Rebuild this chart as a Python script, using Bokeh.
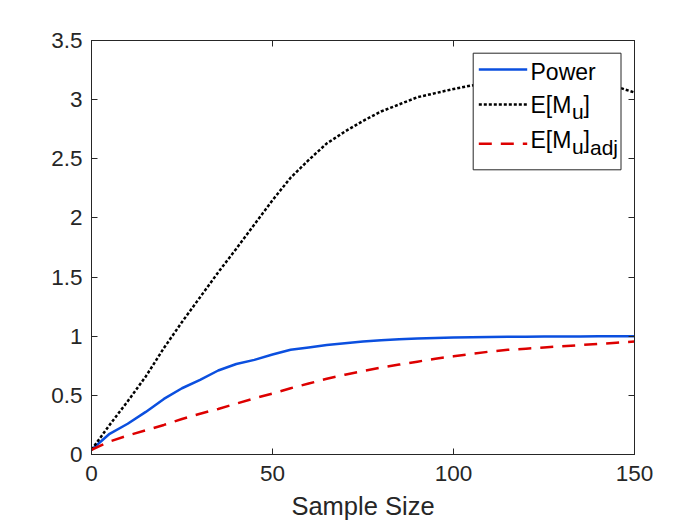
from bokeh.plotting import figure
from bokeh.models import LinearAxis, FixedTicker, CustomJSTickFormatter, Range1d
from bokeh.embed import file_html
from bokeh.resources import INLINE
from bokeh.core.properties import value

# ---------------- data ----------------
sample_size = [0, 5, 10, 15, 20, 25, 30, 35, 40, 45, 50, 55, 60, 65, 70, 75,
               80, 85, 90, 95, 100, 105, 110, 115, 120, 125, 130, 135, 140, 145, 150]
power = [0.04, 0.175, 0.26, 0.36, 0.47, 0.56, 0.63, 0.71, 0.765, 0.80, 0.845, 0.885,
         0.905, 0.925, 0.94, 0.955, 0.965, 0.975, 0.98, 0.985, 0.99, 0.992, 0.994,
         0.995, 0.996, 0.997, 0.998, 0.998, 0.999, 0.999, 1.0]
e_mu = [0.04, 0.25, 0.45, 0.66, 0.90, 1.12, 1.33, 1.54, 1.74, 1.945, 2.15, 2.34,
        2.49, 2.63, 2.73, 2.82, 2.90, 2.96, 3.02, 3.055, 3.09, 3.12, 3.14, 3.155,
        3.165, 3.17, 3.165, 3.15, 3.135, 3.11, 3.06]
e_mu_adj = [0.04, 0.11, 0.16, 0.205, 0.25, 0.30, 0.345, 0.385, 0.43, 0.475, 0.515,
            0.56, 0.60, 0.64, 0.675, 0.705, 0.735, 0.76, 0.785, 0.81, 0.83, 0.85,
            0.87, 0.885, 0.895, 0.905, 0.915, 0.925, 0.935, 0.945, 0.955]
x_ticks = [0, 50, 100, 150]
y_ticks = [0, 0.5, 1, 1.5, 2, 2.5, 3, 3.5]
x_label = "Sample Size"

# ---------------- styling ----------------
FONT = "Liberation Sans"
AX = "#262626"
BLUE = "#0b4fdf"
RED = "#dd0000"
BLACK = "#000000"
DOT = "3 2"
DASH = "13 9"

X0, X1 = 0, 150
Y0, Y1 = 0, 3.5
FW, FH = 543, 414

p = figure(frame_width=FW, frame_height=FH,
           x_range=Range1d(X0, X1), y_range=Range1d(Y0, Y1),
           output_backend="svg", toolbar_location=None,
           min_border_left=91, min_border_right=66,
           min_border_top=40, min_border_bottom=71,
           background_fill_color="white", border_fill_color="white")
p.grid.visible = False
p.outline_line_color = AX
p.outline_line_width = 1

fmt = CustomJSTickFormatter(code="return tick.toString();")


def style_axis(ax, ticks, show_labels=True):
    ax.ticker = FixedTicker(ticks=ticks)
    ax.formatter = fmt
    ax.axis_line_color = AX
    ax.axis_line_width = 1
    ax.major_tick_line_color = AX
    ax.major_tick_line_width = 1
    ax.major_tick_in = 6
    ax.major_tick_out = 0
    ax.minor_tick_line_color = None
    ax.major_label_text_font = FONT
    if show_labels:
        ax.major_label_text_color = AX
        ax.major_label_text_font_size = "22.5px"
    else:
        ax.major_label_text_color = None
        ax.major_label_text_font_size = "1px"
        ax.major_label_standoff = 0


style_axis(p.xaxis[0], x_ticks)
style_axis(p.yaxis[0], y_ticks)
p.xaxis[0].major_label_standoff = 11
p.yaxis[0].major_label_standoff = 9
p.xaxis[0].axis_label = x_label
p.xaxis[0].axis_label_text_font = FONT
p.xaxis[0].axis_label_text_font_size = "25.5px"
p.xaxis[0].axis_label_text_font_style = "normal"
p.xaxis[0].axis_label_text_color = AX
p.xaxis[0].axis_label_standoff = 8

top_ax = LinearAxis()
right_ax = LinearAxis()
style_axis(top_ax, x_ticks, show_labels=False)
style_axis(right_ax, y_ticks, show_labels=False)
p.add_layout(top_ax, "above")
p.add_layout(right_ax, "right")

# ---------------- curves ----------------
p.line(sample_size, power, line_color=BLUE, line_width=2.5)
p.line(sample_size, e_mu, line_color=BLACK, line_width=2.5, line_dash=DOT)
p.line(sample_size, e_mu_adj, line_color=RED, line_width=2.5, line_dash=DASH)

# ---------------- legend (drawn by hand for sub-scripts) ----------------
def dx(px):  # pixel offset from frame left -> data x
    return X0 + px / FW * (X1 - X0)


def dy(py):  # pixel offset from frame top -> data y
    return Y1 - py / FH * (Y1 - Y0)


# positions measured in frame pixels (frame origin at top-left)
p.quad(left=[dx(381.7)], right=[dx(529.5)], top=[dy(12.7)], bottom=[dy(129.3)],
       fill_color="white", line_color=AX, line_width=1)

sx0, sx1 = dx(387.3), dx(435.7)
p.line([sx0, sx1], [dy(29.0)] * 2, line_color=BLUE, line_width=2.5)
p.line([sx0, sx1], [dy(64.0)] * 2, line_color=BLACK, line_width=2.5, line_dash=DOT)
p.line([sx0, sx1], [dy(103.3)] * 2, line_color=RED, line_width=2.5, line_dash=DASH)

tx = 439.0
b1, b2, b3 = 31.5, 64.5, 99.0
main_x = [dx(tx), dx(tx), dx(tx + 53.0), dx(tx), dx(tx + 53.0)]
main_y = [dy(b1), dy(b2), dy(b2), dy(b3), dy(b3)]
main_t = ["Power", "E[M", "]", "E[M", "]"]
p.text(x=main_x, y=main_y, text=main_t, text_font=value(FONT), text_font_size="23px",
       text_color=BLACK, text_align="left", text_baseline="alphabetic")

sub_x = [dx(tx + 41.5), dx(tx + 41.5), dx(tx + 59.5)]
sub_y = [dy(b2 + 6.5), dy(b3 + 6.5), dy(b3 + 8.0)]
sub_t = ["u", "u", "adj"]
p.text(x=sub_x, y=sub_y, text=sub_t, text_font=value(FONT), text_font_size="21px",
       text_color=BLACK, text_align="left", text_baseline="alphabetic")

open("out.html", "w").write(file_html(p, INLINE))
